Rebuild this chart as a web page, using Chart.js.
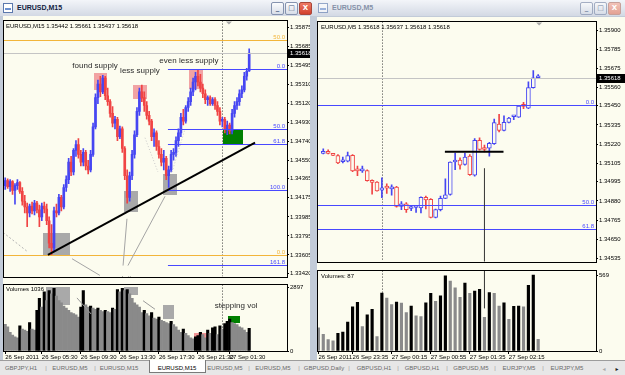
<!DOCTYPE html>
<html>
<head>
<meta charset="utf-8">
<script src="https://cdn.jsdelivr.net/npm/chart.js@4.4.0/dist/chart.umd.min.js"></script>
<style>
  body { margin: 0; width: 625px; height: 375px; overflow: hidden; position: relative; background: #c2cbd8; font-family: 'Liberation Sans', Arial, sans-serif; }
  .title { position: absolute; top: 0; height: 16px; background: linear-gradient(#f3f5f9, #d3d9e4); }
  .title .t { position: absolute; top: 4px; font: bold 7px 'Liberation Sans', Arial, sans-serif; white-space: nowrap; }
  .icon { position: absolute; top: 3px; width: 8px; height: 8px; border: 1px solid #5b78ad; background: #fff; }
  .icon:after { content: ''; position: absolute; left: 1px; top: 4px; width: 6px; height: 2px; background: #6a8fd0; }
  .btn { position: absolute; top: 2px; width: 11px; height: 11px; border: 1px solid #8593af; border-radius: 2px; background: linear-gradient(#fbfcfd, #d7dde8); color: #43557a; font: bold 7px 'DejaVu Sans', sans-serif; text-align: center; line-height: 11px; }
  .btn.close { background: linear-gradient(#ee7a66, #d2402c); border-color: #a8473a; color: #fff; }
  .btn.close.off { background: linear-gradient(#f2c2b8, #e3a294); border-color: #c7a09a; }
  .client { position: absolute; background: #fcfcef; }
  canvas { position: absolute; }
  .tabs { position: absolute; left: 0; top: 360px; width: 625px; height: 15px; background: #e7e7e7; border-top: 1px solid #9c9c9c; font: 6px 'Liberation Sans', Arial, sans-serif; color: #6a6a6a; }
  .tabs span { position: absolute; top: 4px; white-space: nowrap; transform: translateX(-50%); }
  .tabs .act { position: absolute; top: -1px; height: 12px; background: #fff; border: 1px solid #7a7a7a; border-top: none; }
</style>
</head>
<body>
<div class="title" style="left:0;width:313px">
  <div class="icon" style="left:3px"></div>
  <span class="t" style="left:17px;color:#10203f">EURUSD,M15</span>
  <div class="btn" style="left:271px">_</div>
  <div class="btn" style="left:285px">&#9633;</div>
  <div class="btn close" style="left:299px">X</div>
</div>
<div class="title" style="left:313px;width:312px">
  <div class="icon" style="left:5px;opacity:0.6"></div>
  <span class="t" style="left:19px;color:#8591a8">EURUSD,M5</span>
  <div class="btn" style="left:267px;opacity:0.7">_</div>
  <div class="btn" style="left:281px;opacity:0.7">&#9633;</div>
  <div class="btn close off" style="left:295px">X</div>
</div>
<div class="client" style="left:3px;top:16px;width:307px;height:344px"></div>
<div class="client" style="left:317px;top:17px;width:308px;height:343px"></div>

<canvas id="leftPrice" width="307" height="265" style="left:3px;top:16px"></canvas>
<canvas id="leftVolume" width="307" height="81" style="left:3px;top:280px"></canvas>
<canvas id="rightPrice" width="308" height="249" style="left:317px;top:17px"></canvas>
<canvas id="rightVolume" width="308" height="95" style="left:317px;top:266px"></canvas>

<div class="tabs" id="tabs"></div>

<script>
// EURUSD M15 (left window)
const leftOpen = [1.34297, 1.34346, 1.34287, 1.34336, 1.34248, 1.34297, 1.34326, 1.34239, 1.34141, 1.34083,
  1.34024, 1.34093, 1.34044, 1.34122, 1.34054, 1.33985, 1.34093, 1.34063, 1.33946, 1.33722,
  1.33674, 1.34044, 1.34024, 1.34180, 1.34083, 1.34278, 1.34356, 1.34531, 1.34433, 1.34648,
  1.34706, 1.34609, 1.34531, 1.34628, 1.34492, 1.34453, 1.34609, 1.34882, 1.35174, 1.35310,
  1.35232, 1.35369, 1.35193, 1.35135, 1.35018, 1.34920, 1.34959, 1.34784, 1.34862, 1.34667,
  1.34395, 1.34180, 1.34395, 1.34609, 1.34804, 1.35037, 1.35232, 1.35174, 1.35096, 1.34998,
  1.34940, 1.34784, 1.34823, 1.34687, 1.34609, 1.34531, 1.34570, 1.34395, 1.34453, 1.34609,
  1.34628, 1.34745, 1.34823, 1.34979, 1.34940, 1.35076, 1.35135, 1.35232, 1.35330, 1.35388,
  1.35330, 1.35271, 1.35213, 1.35154, 1.35174, 1.35115, 1.35154, 1.35096, 1.35037, 1.34940,
  1.34959, 1.34862, 1.34901, 1.34843, 1.35018, 1.35096, 1.35135, 1.35213, 1.35252, 1.35388,
  1.35442];
const leftHigh = [1.34375, 1.34365, 1.34356, 1.34346, 1.34317, 1.34356, 1.34336, 1.34278, 1.34200, 1.34122,
  1.34112, 1.34132, 1.34151, 1.34141, 1.34102, 1.34122, 1.34132, 1.34112, 1.33985, 1.33908,
  1.34083, 1.34112, 1.34210, 1.34200, 1.34307, 1.34395, 1.34570, 1.34589, 1.34667, 1.34745,
  1.34765, 1.34648, 1.34667, 1.34648, 1.34550, 1.34648, 1.34920, 1.35213, 1.35349, 1.35388,
  1.35398, 1.35388, 1.35271, 1.35154, 1.35086, 1.34989, 1.34979, 1.34891, 1.34882, 1.34687,
  1.34453, 1.34433, 1.34648, 1.34843, 1.35076, 1.35271, 1.35300, 1.35232, 1.35135, 1.35037,
  1.34959, 1.34862, 1.34843, 1.34745, 1.34667, 1.34648, 1.34589, 1.34492, 1.34648, 1.34667,
  1.34784, 1.34862, 1.35018, 1.35057, 1.35096, 1.35174, 1.35271, 1.35369, 1.35427, 1.35456,
  1.35407, 1.35310, 1.35252, 1.35193, 1.35193, 1.35174, 1.35174, 1.35135, 1.35076, 1.34979,
  1.34979, 1.34940, 1.34920, 1.35057, 1.35135, 1.35174, 1.35252, 1.35291, 1.35427, 1.35466,
  1.35661];
const leftLow = [1.34258, 1.34268, 1.34239, 1.34210, 1.34112, 1.34258, 1.34219, 1.34102, 1.34024, 1.33888,
  1.33985, 1.34015, 1.34005, 1.34024, 1.33888, 1.33946, 1.34024, 1.33908, 1.33674, 1.33606,
  1.33635, 1.33985, 1.34005, 1.34044, 1.34063, 1.34239, 1.34317, 1.34395, 1.34404, 1.34589,
  1.34570, 1.34492, 1.34492, 1.34453, 1.34414, 1.34433, 1.34589, 1.34862, 1.35115, 1.35183,
  1.35213, 1.35154, 1.35096, 1.34979, 1.34882, 1.34862, 1.34745, 1.34765, 1.34628, 1.34356,
  1.34122, 1.34141, 1.34356, 1.34570, 1.34784, 1.34998, 1.35135, 1.35037, 1.34959, 1.34901,
  1.34745, 1.34687, 1.34648, 1.34570, 1.34492, 1.34453, 1.34356, 1.34278, 1.34433, 1.34550,
  1.34589, 1.34687, 1.34784, 1.34901, 1.34920, 1.35037, 1.35096, 1.35193, 1.35252, 1.35291,
  1.35232, 1.35174, 1.35115, 1.35096, 1.35096, 1.35096, 1.35057, 1.34998, 1.34901, 1.34882,
  1.34823, 1.34804, 1.34813, 1.34813, 1.34979, 1.35057, 1.35096, 1.35174, 1.35232, 1.35349,
  1.35437];
const leftClose = [1.34346, 1.34287, 1.34336, 1.34248, 1.34297, 1.34326, 1.34239, 1.34141, 1.34083, 1.34024,
  1.34093, 1.34044, 1.34122, 1.34054, 1.33985, 1.34093, 1.34063, 1.33946, 1.33722, 1.33674,
  1.34044, 1.34024, 1.34180, 1.34083, 1.34278, 1.34356, 1.34531, 1.34433, 1.34648, 1.34706,
  1.34609, 1.34531, 1.34628, 1.34492, 1.34453, 1.34609, 1.34882, 1.35174, 1.35310, 1.35232,
  1.35369, 1.35193, 1.35135, 1.35018, 1.34920, 1.34959, 1.34784, 1.34862, 1.34667, 1.34395,
  1.34180, 1.34395, 1.34609, 1.34804, 1.35037, 1.35232, 1.35174, 1.35096, 1.34998, 1.34940,
  1.34784, 1.34823, 1.34687, 1.34609, 1.34531, 1.34570, 1.34395, 1.34453, 1.34609, 1.34628,
  1.34745, 1.34823, 1.34979, 1.34940, 1.35076, 1.35135, 1.35232, 1.35330, 1.35388, 1.35330,
  1.35271, 1.35213, 1.35154, 1.35174, 1.35115, 1.35154, 1.35096, 1.35037, 1.34940, 1.34959,
  1.34862, 1.34901, 1.34843, 1.35018, 1.35096, 1.35135, 1.35213, 1.35252, 1.35388, 1.35437,
  1.35618];
const leftVolume = [1210, 1100, 850, 720, 650, 600, 1150, 1000, 950, 900,
  1300, 1000, 950, 1850, 2400, 2000, 2700, 2300, 2750, 2600,
  2850, 2500, 2300, 2200, 2050, 1950, 1850, 1750, 1700, 1650,
  1550, 2000, 2750, 2100, 2000, 2050, 1950, 1900, 1950, 1850,
  1800, 1850, 1800, 1750, 1950, 1900, 2800, 2700, 2850, 2750,
  2800, 2600, 2400, 2200, 2100, 2000, 1750, 1850, 1700, 1600,
  1750, 1500, 1450, 1550, 1400, 1350, 1300, 1250, 1350, 1200,
  1100, 950, 850, 1000, 800, 700, 600, 550, 650, 700,
  850, 750, 600, 950, 800, 1050, 1100, 750, 1150, 1000,
  1250, 1350, 1450, 1300, 1250, 1200, 1100, 1050, 950, 850,
  1036];
const leftPriceTicks = [1.35875, 1.35685, 1.35495, 1.35310, 1.35120, 1.34930, 1.34740, 1.34550, 1.34365, 1.34175, 1.33985, 1.33795, 1.33605, 1.33420];
const leftVolumeTicks = [2897, 0];
const leftDateSlots = [0, 15, 31, 47, 63, 79, 92];
const leftDateLabels = ['26 Sep 2011', '26 Sep 05:30', '26 Sep 09:30', '26 Sep 13:30', '26 Sep 17:30', '26 Sep 21:30', '27 Sep 01:30'];

// EURUSD M5 (right window), slot 0 has no visible candle
const rightOpen = [null, 1.35165, 1.35177, 1.35161, 1.35151, 1.35115, 1.35118, 1.35153, 1.35062, 1.35060,
  1.35062, 1.35002, 1.34993, 1.34944, 1.34959, 1.34952, 1.34963, 1.34847, 1.34862, 1.34835,
  1.34841, 1.34839, 1.34901, 1.34890, 1.34781, 1.34828, 1.34895, 1.34919, 1.35113, 1.35124,
  1.35099, 1.35148, 1.35035, 1.35243, 1.35190, 1.35196, 1.35223, 1.35341, 1.35303, 1.35351,
  1.35384, 1.35382, 1.35448, 1.35436, 1.35559, 1.35618];
const rightHigh = [null, 1.35192, 1.35186, 1.35165, 1.35157, 1.35142, 1.35173, 1.35157, 1.35089, 1.35089,
  1.35066, 1.35006, 1.34996, 1.35018, 1.34983, 1.34977, 1.34967, 1.34876, 1.34870, 1.34853,
  1.34853, 1.34905, 1.34909, 1.34894, 1.34832, 1.34909, 1.35012, 1.35115, 1.35167, 1.35138,
  1.35167, 1.35157, 1.35254, 1.35258, 1.35215, 1.35231, 1.35370, 1.35398, 1.35390, 1.35380,
  1.35390, 1.35452, 1.35471, 1.35593, 1.35661, 1.35637];
const rightLow = [null, 1.35161, 1.35161, 1.35151, 1.35103, 1.35107, 1.35113, 1.35056, 1.35031, 1.35051,
  1.34998, 1.34921, 1.34938, 1.34899, 1.34925, 1.34915, 1.34843, 1.34828, 1.34812, 1.34822,
  1.34812, 1.34809, 1.34832, 1.34779, 1.34778, 1.34820, 1.34894, 1.34915, 1.35068, 1.35070,
  1.35095, 1.35033, 1.35029, 1.35184, 1.35173, 1.35148, 1.35219, 1.35293, 1.35299, 1.35347,
  1.35366, 1.35380, 1.35433, 1.35433, 1.35555, 1.35618];
const rightClose = [null, 1.35177, 1.35165, 1.35153, 1.35107, 1.35126, 1.35151, 1.35060, 1.35060, 1.35062,
  1.35002, 1.34991, 1.34940, 1.34959, 1.34957, 1.34965, 1.34847, 1.34862, 1.34828, 1.34837,
  1.34843, 1.34901, 1.34886, 1.34781, 1.34828, 1.34895, 1.34917, 1.35113, 1.35124, 1.35095,
  1.35142, 1.35037, 1.35243, 1.35188, 1.35188, 1.35225, 1.35349, 1.35303, 1.35351, 1.35376,
  1.35386, 1.35448, 1.35446, 1.35559, 1.35617, 1.35618];
const rightVolume = [173, 125, 86, 77, 132, 142, 216, 331, 365, 182,
  271, 312, 108, 434, 396, 348, 367, 358, 288, 336,
  264, 257, 360, 432, 372, 413, 562, 523, 473, 401,
  509, 432, 449, 461, 252, 437, 432, 336, 360, 238,
  334, 336, 330, 492, 569, 87];
const rightPriceTicks = [1.35900, 1.35785, 1.35675, 1.35560, 1.35450, 1.35335, 1.35220, 1.35105, 1.34995, 1.34880, 1.34765, 1.34650, 1.34535];
const rightVolumeTicks = [569, 0];
const rightDateSlots = [0, 7, 15, 23, 31, 39];
const rightDateLabels = ['26 Sep 2011', '26 Sep 23:35', '27 Sep 00:15', '27 Sep 00:55', '27 Sep 01:35', '27 Sep 02:15'];

const BG = '#fcfcef';
const BLUE = '#4646f2';
const RED = '#f04444';
const FIB = '#4848ff';
const GOLD = '#f2b53a';
const FONT = "'Liberation Sans', Arial, sans-serif";
const AXIS_FONT = { family: FONT, size: 6 };

const candleSets = (open, high, low, close, bodyWidth, hollow) => {
  const idx = open.map((o, i) => i).filter((i) => open[i] !== null);
  const colors = idx.map((i) => (close[i] >= open[i] ? BLUE : RED));
  return [
    {
      type: 'bar',
      data: idx.map((i) => ({ x: i, y: [open[i], close[i]] })),
      backgroundColor: hollow ? BG : colors,
      borderColor: colors,
      borderWidth: hollow ? 1 : 0,
      borderSkipped: false,
      barThickness: bodyWidth,
      minBarLength: hollow ? 2 : 1,
      grouped: false,
      order: 0,
    },
    {
      type: 'bar',
      data: idx.map((i) => ({ x: i, y: [low[i], high[i]] })),
      backgroundColor: colors,
      barThickness: 1,
      grouped: false,
      order: 1,
    },
  ];
};

const volumeSet = (vols, width) => ({
  type: 'bar',
  data: vols.map((v, i) => ({ x: i, y: v })),
  backgroundColor: vols.map((v, i) => (i > 0 && v > vols[i - 1] ? '#000' : '#8a8a8a')),
  barThickness: width,
  grouped: false,
});

const priceAxis = (min, max, ticks, width, digits) => ({
  position: 'right',
  min,
  max,
  afterBuildTicks: (s) => { s.ticks = ticks.map((v) => ({ value: v })); },
  afterFit: (s) => { s.width = width; },
  grid: { drawOnChartArea: false, tickLength: 2, color: '#000' },
  border: { display: false },
  ticks: { font: AXIS_FONT, color: '#000', padding: 1, callback: (v) => v.toFixed(digits) },
});

const timeAxis = (min, max, slots, labels) => ({
  type: 'linear',
  min,
  max,
  offset: false,
  afterBuildTicks: (s) => { s.ticks = slots.map((v) => ({ value: v })); },
  afterFit: (s) => { s.height = 10; },
  grid: { drawOnChartArea: false, offset: false, tickLength: 3, color: '#000' },
  border: { display: false },
  ticks: { font: AXIS_FONT, color: '#000', padding: 0, align: 'start', maxRotation: 0, autoSkip: false,
    callback: (v) => labels[slots.indexOf(v)] },
});

const hiddenAxis = (min, max) => ({ type: 'linear', min, max, offset: false, display: false, grid: { offset: false } });

const clipArea = (ctx, a) => {
  ctx.beginPath();
  ctx.rect(a.left, a.top, a.right - a.left, a.bottom - a.top);
  ctx.clip();
};

// objects drawn on the chart: boxes, fibo levels, trend lines, notes
const overlay = (spec) => ({
  id: 'overlay',
  beforeDatasetsDraw(chart) {
    const { ctx, chartArea: a, scales: { x, y } } = chart;
    ctx.save();
    clipArea(ctx, a);
    (spec.rects || []).forEach((r) => {
      const x0 = Math.round(x.getPixelForValue(r.x0));
      const x1 = Math.round(x.getPixelForValue(r.x1));
      const y0 = Math.round(y.getPixelForValue(r.y0));
      const y1 = Math.round(y.getPixelForValue(r.y1));
      ctx.fillStyle = r.color;
      ctx.fillRect(x0, y0, x1 - x0, y1 - y0);
    });
    ctx.setLineDash([1, 2]);
    ctx.strokeStyle = '#3a3a3a';
    ctx.lineWidth = 1;
    (spec.vdots || []).forEach((v) => {
      const px = Math.round(x.getPixelForValue(v)) + 0.5;
      ctx.beginPath();
      ctx.moveTo(px, a.top);
      ctx.lineTo(px, a.bottom);
      ctx.stroke();
    });
    ctx.restore();
  },
  afterDatasetsDraw(chart) {
    const { ctx, chartArea: a, scales: { x, y } } = chart;
    ctx.save();
    clipArea(ctx, a);
    (spec.hlines || []).forEach((h) => {
      const py = Math.round(y.getPixelForValue(h.y)) + 0.5;
      const x0 = h.from == null ? a.left : x.getPixelForValue(h.from);
      ctx.strokeStyle = h.color;
      ctx.lineWidth = 1;
      ctx.beginPath();
      ctx.moveTo(x0, py);
      ctx.lineTo(a.right, py);
      ctx.stroke();
      if (h.label) {
        ctx.fillStyle = h.color;
        ctx.font = `6px ${FONT}`;
        ctx.textAlign = 'right';
        ctx.textBaseline = 'bottom';
        ctx.fillText(h.label, a.right - 2, py - 0.5);
      }
    });
    (spec.segs || []).forEach((s) => {
      ctx.strokeStyle = s.color;
      ctx.lineWidth = s.width || 1;
      ctx.setLineDash(s.dash || []);
      ctx.beginPath();
      ctx.moveTo(x.getPixelForValue(s.x0), y.getPixelForValue(s.y0));
      ctx.lineTo(x.getPixelForValue(s.x1), y.getPixelForValue(s.y1));
      ctx.stroke();
    });
    ctx.setLineDash([]);
    (spec.texts || []).forEach((t) => {
      ctx.fillStyle = t.color || '#2a2a2a';
      ctx.font = `8px ${FONT}`;
      ctx.textAlign = 'center';
      ctx.textBaseline = 'middle';
      ctx.fillText(t.text, x.getPixelForValue(t.x), y.getPixelForValue(t.y));
    });
    if (spec.header) {
      ctx.fillStyle = '#000';
      ctx.font = `6px ${FONT}`;
      ctx.textAlign = 'left';
      ctx.textBaseline = 'middle';
      ctx.fillText(spec.header, a.left + spec.headerDx, a.top + spec.headerDy);
    }
    ctx.restore();
  },
  afterDraw(chart) {
    const { ctx, chartArea: a, scales: { x, y } } = chart;
    ctx.save();
    if (spec.tag != null) {
      const py = Math.round(y.getPixelForValue(spec.tag));
      ctx.fillStyle = '#000';
      ctx.fillRect(a.right + 1, py - 4, chart.width - a.right - 1, 9);
      ctx.fillStyle = '#fff';
      ctx.font = `6px ${FONT}`;
      ctx.textAlign = 'left';
      ctx.textBaseline = 'middle';
      ctx.fillText(spec.tag.toFixed(5), a.right + 3, py + 0.5);
    }
    if (spec.shift != null) {
      const px = x.getPixelForValue(spec.shift);
      ctx.fillStyle = '#a8a8a8';
      ctx.beginPath();
      ctx.moveTo(px - 3, a.top + 1);
      ctx.lineTo(px + 3, a.top + 1);
      ctx.lineTo(px, a.top + 4);
      ctx.fill();
    }
    ctx.strokeStyle = '#000';
    ctx.lineWidth = 1;
    ctx.strokeRect(Math.round(a.left) - 0.5, Math.round(a.top) - 0.5, Math.round(a.right - a.left) + 1, Math.round(a.bottom - a.top) + 1);
    ctx.restore();
  },
});

const makeChart = (id, datasets, scales, padding, spec) => new Chart(document.getElementById(id), {
  type: 'bar',
  data: { datasets },
  options: {
    responsive: false,
    animation: false,
    devicePixelRatio: 1,
    layout: { padding },
    plugins: { legend: { display: false }, tooltip: { enabled: false } },
    scales,
  },
  plugins: [overlay(spec)],
});

const last = (arr) => arr[arr.length - 1];
const ohlcText = (o, h, l, c) => [o, h, l, c].map((v) => last(v).toFixed(5)).join(' ');

makeChart('leftPrice',
  candleSets(leftOpen, leftHigh, leftLow, leftClose, 2, false),
  { x: hiddenAxis(-0.5, 115.5), y: priceAxis(1.33391, 1.35943, leftPriceTicks, 23, 5) },
  { left: 1, top: 1, right: 0, bottom: 2 },
  {
    rects: [
      { x0: 15.5, x1: 26.6, y0: 1.33820, y1: 1.33606, color: '#a9a9a9' },
      { x0: 48.7, x1: 54.4, y0: 1.34239, y1: 1.34034, color: '#a9a9a9' },
      { x0: 64.7, x1: 70.4, y0: 1.34414, y1: 1.34200, color: '#a9a9a9' },
      { x0: 36.4, x1: 41.7, y0: 1.35417, y1: 1.35252, color: '#f2a3a3' },
      { x0: 52.4, x1: 58.1, y0: 1.35300, y1: 1.35164, color: '#f2a3a3' },
      { x0: 75.3, x1: 81.1, y0: 1.35456, y1: 1.35261, color: '#f2a3a3' },
      { x0: 89.3, x1: 97.5, y0: 1.34864, y1: 1.34716, color: '#008000' },
    ],
    vdots: [89],
    hlines: [
      { y: 1.35748, color: GOLD, label: '50.0' },
      { y: 1.35618, color: '#c4c4c4' },
      { y: 1.35456, from: 66.7, color: FIB, label: '0.0' },
      { y: 1.34864, from: 66.7, color: FIB, label: '50.0' },
      { y: 1.34716, from: 66.7, color: FIB, label: '61.8' },
      { y: 1.34248, from: 66.7, color: FIB, label: '100.0' },
      { y: 1.33606, color: GOLD, label: '0.0' },
      { y: 1.33500, from: 66.7, color: FIB, label: '161.8' },
    ],
    segs: [
      { x0: -0.9, y0: 1.33830, x1: 9.3, y1: 1.33635, color: '#b4b4b4', dash: [2, 2] },
      { x0: 27.4, y0: 1.33567, x1: 38.8, y1: 1.33401, color: '#a4a4a4' },
      { x0: 49.9, y0: 1.33966, x1: 48.3, y1: 1.33499, color: '#a4a4a4' },
      { x0: 65.5, y0: 1.34190, x1: 50.3, y1: 1.33499, color: '#a4a4a4' },
      { x0: 57.3, y0: 1.34774, x1: 62.6, y1: 1.34433, color: '#c8c8c8', dash: [1, 2] },
      { x0: 68.4, y0: 1.34433, x1: 73.7, y1: 1.34862, color: '#c8c8c8', dash: [1, 2] },
      { x0: 17.5, y0: 1.33606, x1: 102.4, y1: 1.34726, color: '#000', width: 2 },
    ],
    texts: [
      { x: 36.8, y: 1.35496, text: 'found supply' },
      { x: 55.2, y: 1.35447, text: 'less supply' },
      { x: 75.3, y: 1.35544, text: 'even less supply' },
      { x: 45.8, y: 1.33366, text: 'accumulation' },
    ],
    header: 'EURUSD,M15 ' + ohlcText(leftOpen, leftHigh, leftLow, leftClose),
    headerDx: 2,
    headerDy: 6,
    tag: last(leftClose),
    shift: 91.7,
  });

makeChart('leftVolume',
  [volumeSet(leftVolume, 2.44)],
  { x: timeAxis(-0.5, 115.5, leftDateSlots, leftDateLabels), y: priceAxis(0, 3025, leftVolumeTicks, 23, 0) },
  { left: 1, top: 1, right: 0, bottom: 0 },
  {
    rects: [
      { x0: 16.7, x1: 26.5, y0: 2894, y1: 2074, color: '#a9a9a9' },
      { x0: 48.7, x1: 54.4, y0: 2938, y1: 2549, color: '#a9a9a9' },
      { x0: 64.7, x1: 69.2, y0: 2117, y1: 1469, color: '#a9a9a9' },
      { x0: 77.4, x1: 83.5, y0: 821, y1: 389, color: '#f29494' },
      { x0: 91.3, x1: 96.2, y0: 1598, y1: 1253, color: '#008000' },
    ],
    vdots: [89],
    segs: [
      { x0: 29.4, y0: 2419, x1: 35.2, y1: 1685, color: '#9a9a9a' },
      { x0: 56.5, y0: 2290, x1: 61.4, y1: 1901, color: '#9a9a9a' },
    ],
    texts: [{ x: 94.6, y: 2074, text: 'stepping vol' }],
    header: 'Volumes ' + last(leftVolume),
    headerDx: 2,
    headerDy: 5,
  });

makeChart('rightPrice',
  candleSets(rightOpen, rightHigh, rightLow, rightClose, 4, true),
  { x: hiddenAxis(-0.08, 56.84), y: priceAxis(1.34518, 1.35954, rightPriceTicks, 29, 5) },
  { left: 1, top: 1, right: 0, bottom: 1 },
  {
    vdots: [13],
    hlines: [
      { y: 1.35618, color: '#c4c4c4' },
      { y: 1.35456, color: FIB, label: '0.0' },
      { y: 1.34855, color: FIB, label: '50.0' },
      { y: 1.34715, color: FIB, label: '61.8' },
    ],
    segs: [
      { x0: 25.9, y0: 1.35175, x1: 37.9, y1: 1.35175, color: '#000', width: 2 },
      { x0: 34, y0: 1.35076, x1: 34, y1: 1.34400, color: '#333' },
    ],
    header: 'EURUSD,M5 ' + ohlcText(rightOpen, rightHigh, rightLow, rightClose),
    headerDx: 3,
    headerDy: 6,
    tag: last(rightClose),
    shift: 45.2,
  });

makeChart('rightVolume',
  [volumeSet(rightVolume, 2.5)],
  { x: timeAxis(-0.08, 56.84, rightDateSlots, rightDateLabels), y: priceAxis(0, 602, rightVolumeTicks, 29, 0) },
  { left: 1, top: 1, right: 0, bottom: 0 },
  {
    vdots: [13],
    segs: [{ x0: 34, y0: 700, x1: 34, y1: 319, color: '#333' }],
    header: 'Volumes: ' + last(rightVolume),
    headerDx: 3,
    headerDy: 6,
  });

// terminal tab strip
const tabNames = ['GBPJPY,H1', 'EURUSD,M5', 'EURUSD,M15', 'EURUSD,M15', 'EURUSD,M5', 'EURUSD,M5', 'GBPUSD,Daily', 'GBPUSD,H1', 'GBPUSD,H1', 'GBPUSD,M5', 'EURJPY,M5', 'EURJPY,M5'];
const tabCenters = [21, 70, 119, 177, 225, 273, 324, 374, 422, 471, 519, 567];
const tabs = document.getElementById('tabs');
const act = document.createElement('div');
act.className = 'act';
act.style.left = '149px';
act.style.width = '55px';
tabs.appendChild(act);
tabNames.forEach((name, i) => {
  const s = document.createElement('span');
  s.textContent = name;
  s.style.left = tabCenters[i] + 'px';
  if (i === 3) s.style.color = '#000';
  tabs.appendChild(s);
  if (i < tabNames.length - 1 && i !== 2 && i !== 3) {
    const sep = document.createElement('span');
    sep.textContent = '|';
    sep.style.left = Math.round((tabCenters[i] + tabCenters[i + 1]) / 2) + 'px';
    sep.style.color = '#9a9a9a';
    tabs.appendChild(sep);
  }
});
[['\u25C2', 604, '#aaa'], ['\u25B8', 617, '#222']].forEach(([t, x, c]) => {
  const s = document.createElement('span');
  s.textContent = t;
  s.style.left = x + 'px';
  s.style.color = c;
  s.style.fontFamily = "'DejaVu Sans', sans-serif";
  tabs.appendChild(s);
});
</script>
</body>
</html>
